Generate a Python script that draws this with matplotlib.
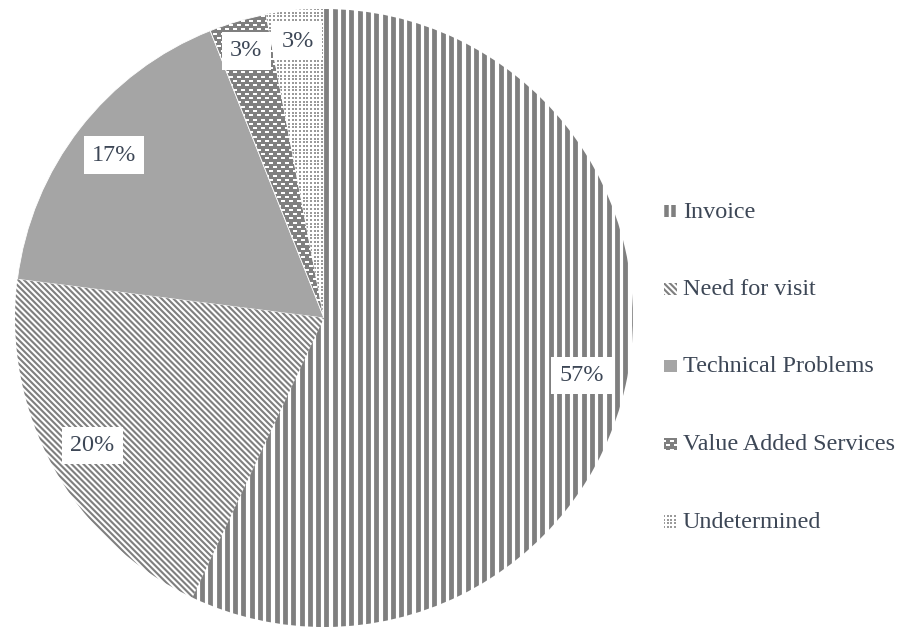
import matplotlib.pyplot as plt
import numpy as np
from matplotlib.collections import LineCollection
from matplotlib.patches import Rectangle

# Complaint categories and their shares (%)
labels = ["Invoice", "Need for visit", "Technical Problems", "Value Added Services", "Undetermined"]
shares = [57, 20, 17, 3, 3]
label_dist = [0.855, 0.855, 0.86, 0.9, 0.9]

W, H = 909, 630
CX, CY, R = 324, 318, 309      # pie centre / radius in pixels
GRAY = "#7f7f7f"
SOLID = "#a5a5a5"
TEXT = "#3d4756"
FS = 17.4

plt.rcParams["font.family"] = ["Liberation Serif", "DejaVu Serif"]

fig = plt.figure(figsize=(W / 100, H / 100), dpi=100)
ax = fig.add_axes([0, 0, 1, 1])


def to_data(x, y):
    return (x - CX) / R, (CY - y) / R


def stripes(clip, bbox, angle, period, width, color):
    # parallel lines across bbox, spacing and width given in pixels
    x0, y0, x1, y1 = bbox
    cx, cy = (x0 + x1) / 2, (y0 + y1) / 2
    half = np.hypot(x1 - x0, y1 - y0)
    a = np.radians(angle)
    d = np.array([np.cos(a), np.sin(a)])
    n = np.array([-np.sin(a), np.cos(a)])
    segs = []
    for o in np.arange(-half, half, period / R):
        p = np.array([cx, cy]) + o * n
        segs.append([p - half * d, p + half * d])
    lc = LineCollection(segs, colors=color, linewidths=width * 0.72, capstyle="butt", zorder=3)
    ax.add_collection(lc)
    lc.set_clip_path(clip)


def grid_marks(clip, bbox, dx, dy, shift, marker, size, thick, color):
    # small repeated marks (dots / dashes) filling bbox
    x0, y0, x1, y1 = bbox
    xs, ys = [], []
    for j, y in enumerate(np.arange(y0, y1 + dy / R, dy / R)):
        off = shift / R if j % 2 else 0
        row = np.arange(x0 - off, x1 + dx / R, dx / R)
        xs.extend(row)
        ys.extend([y] * len(row))
    if marker == "_":
        ln, = ax.plot(xs, ys, ls="none", marker="_", ms=size * 0.72, mew=thick * 0.72,
                      color=color, zorder=3)
    else:
        ln, = ax.plot(xs, ys, ls="none", marker="s", ms=size * 0.72, mew=0,
                      color=color, zorder=3)
    ln.set_clip_path(clip)


def fill_pattern(i, clip, bbox, legend=False):
    if i == 0:
        if legend:
            stripes(clip, bbox, 90, 7.5, 4.5, GRAY)
        else:
            stripes(clip, bbox, 90, 8.3, 4.8, GRAY)
    elif i == 1:
        stripes(clip, bbox, -45, 4.2, 2.1, GRAY)
    elif i == 3:
        grid_marks(clip, bbox, 8, 4.3, 4, "_", 4, 2, "white")
    elif i == 4:
        grid_marks(clip, bbox, 3.7, 3.7, 0, "s", 2, 0, "#9a9a9a")


face = ["white", "white", SOLID, GRAY, "white"]
wedges, _ = ax.pie(shares, startangle=90, counterclock=False, radius=1, colors=face,
                   wedgeprops=dict(edgecolor="white", linewidth=0.6))

for i, w in enumerate(wedges):
    fill_pattern(i, w, (-1, -1, 1, 1))

# percentage labels in white boxes
for w, v, dist in zip(wedges, shares, label_dist):
    mid = np.radians((w.theta1 + w.theta2) / 2)
    ax.text(dist * np.cos(mid), dist * np.sin(mid), f"{v}%", fontsize=FS, color=TEXT,
            ha="center", va="center", zorder=5,
            bbox=dict(boxstyle="square,pad=0.34", fc="white", ec="none"))

# legend on the right
for i, name in enumerate(labels):
    yc = 211 + 77.5 * i
    x0, y0 = to_data(664, yc + 6)
    x1, y1 = to_data(677, yc - 6)
    box = Rectangle((x0, y0), x1 - x0, y1 - y0, fc=face[i], ec="none", zorder=2)
    ax.add_patch(box)
    fill_pattern(i, box, (x0, y0, x1, y1), legend=True)
    tx, ty = to_data(683, yc + 1)
    ax.text(tx, ty, name, fontsize=FS, color=TEXT, ha="left", va="center")

ax.set_xlim(-CX / R, (W - CX) / R)
ax.set_ylim(-(H - CY) / R, CY / R)
ax.set_aspect("auto")
ax.axis("off")

fig.savefig("out.png", dpi=100)
